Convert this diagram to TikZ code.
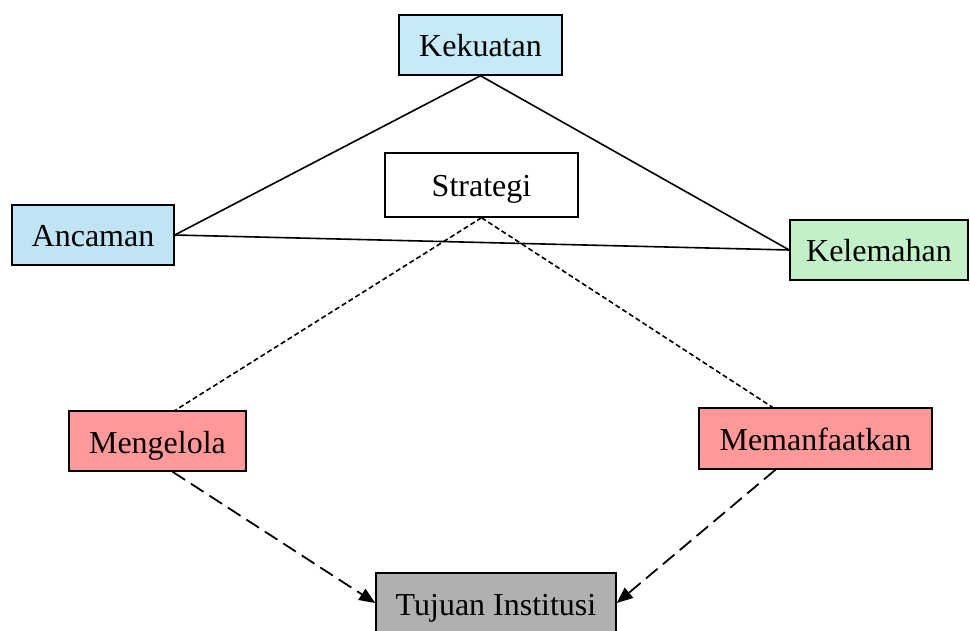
\documentclass[tikz,border=0pt]{standalone}
\usepackage{fontspec}
\setmainfont{Liberation Serif}
\usetikzlibrary{arrows.meta}

\definecolor{kuatblue}{RGB}{198,234,248}
\definecolor{ancamblue}{RGB}{192,228,244}
\definecolor{lemahgreen}{RGB}{194,240,200}
\definecolor{aksired}{RGB}{255,153,153}
\definecolor{tujuangray}{RGB}{176,176,176}

\tikzstyle{box} = [draw=black,line width=1.5pt,rectangle,inner sep=0pt,minimum height=60pt,text height=24pt,text depth=0pt,font=\fontsize{32}{38}\selectfont,text centered]
\tikzstyle{link} = [line width=1.6pt]
\tikzstyle{dotlink} = [line width=1.6pt,dash pattern=on 5pt off 3pt]
\tikzstyle{dashlink} = [line width=1.8pt,dash pattern=on 15pt off 7pt,-{Triangle[length=16pt,width=13pt]}]

\begin{document}
\begin{tikzpicture}[x=1pt,y=-1pt]
	\useasboundingbox (0,0) rectangle (970,631);
	\node (kekuatan) [box,fill=kuatblue,minimum width=163pt] at (480.5,45) {Kekuatan};
	\node (strategi) [box,fill=white,minimum width=193pt,minimum height=64pt] at (481.5,185) {Strategi};
	\node (ancaman) [box,fill=ancamblue,minimum width=162pt] at (93,235) {Ancaman};
	\node (kelemahan) [box,fill=lemahgreen,minimum width=178pt] at (879,250) {Kelemahan};
	\node (mengelola) [box,fill=aksired,minimum width=177pt] at (157.5,441) {Mengelola};
	\node (memanfaatkan) [box,fill=aksired,minimum width=233pt,minimum height=61pt] at (815.5,438.5) {Memanfaatkan};
	\node (tujuan) [box,fill=tujuangray,minimum width=240pt] at (496,603) {Tujuan Institusi};
	\draw [link] (kekuatan.south) -- (ancaman.east);
	\draw [link] (kekuatan.south) -- (kelemahan.west);
	\draw [link] (ancaman.east) -- (kelemahan.west);
	\draw [dotlink] (strategi.south) -- (mengelola.60);
	\draw [dotlink] (strategi.south) -- (memanfaatkan.144);
	\draw [dashlink] (mengelola.-64) -- (tujuan.west);
	\draw [dashlink] (memanfaatkan.218) -- (tujuan.east);
\end{tikzpicture}
\end{document}
